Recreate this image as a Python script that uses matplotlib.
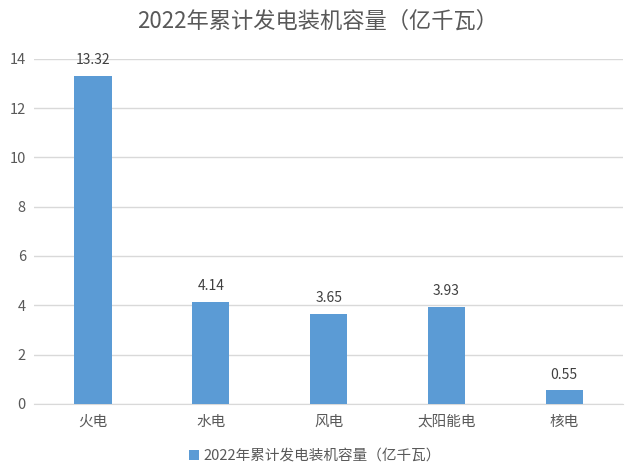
import matplotlib
matplotlib.use("Agg")
import matplotlib.pyplot as plt

plt.rcParams["font.family"] = ["Noto Sans CJK SC", "DejaVu Sans"]

CATEGORIES = ["火电", "水电", "风电", "太阳能电", "核电"]
VALUES = [13.32, 4.14, 3.65, 3.93, 0.55]
SERIES_NAME = "2022年累计发电装机容量（亿千瓦）"
TITLE = "2022年累计发电装机容量（亿千瓦）"
Y_TICKS = [0, 2, 4, 6, 8, 10, 12, 14]

BAR_COLOR = "#5B9BD5"
TEXT_COLOR = "#595959"
GRID_COLOR = "#D9D9D9"

fig = plt.figure(figsize=(6.32, 4.74), dpi=100)
ax = fig.add_axes([0.054, 0.148, 0.932, 0.728])

x = range(len(CATEGORIES))
bars = ax.bar(x, VALUES, width=0.315, color=BAR_COLOR, label=SERIES_NAME, zorder=3)

for b, v in zip(bars, VALUES):
    ax.text(b.get_x() + b.get_width() / 2, v + 0.35, f"{v:.2f}",
            ha="center", va="bottom", fontsize=10, color="#404040")

ax.set_xlim(-0.5, len(CATEGORIES) - 0.5)
ax.set_ylim(0, 14)
ax.set_yticks(Y_TICKS)
ax.set_xticks(list(x))
ax.set_xticklabels(CATEGORIES)
ax.tick_params(axis="both", length=0, labelsize=10.5, colors=TEXT_COLOR)
ax.tick_params(axis="x", pad=8)
ax.tick_params(axis="y", pad=6)
ax.grid(axis="y", color=GRID_COLOR, lw=1.0, zorder=0)
for side in ("top", "right", "left"):
    ax.spines[side].set_visible(False)
ax.spines["bottom"].set_color(GRID_COLOR)

fig.text(0.503, 0.955, TITLE, ha="center", va="center", fontsize=16, color=TEXT_COLOR)
fig.legend(loc="center", bbox_to_anchor=(0.498, 0.038), frameon=False, fontsize=10.5,
           handlelength=0.7, handleheight=0.7, handletextpad=0.3, labelcolor=TEXT_COLOR)

fig.savefig("out.png", dpi=100)
